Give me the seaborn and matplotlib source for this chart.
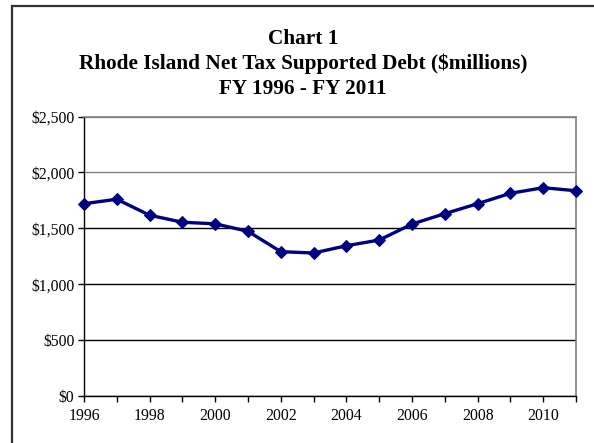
import matplotlib
matplotlib.use("Agg")
import matplotlib.pyplot as plt
import seaborn as sns
import pandas as pd
from matplotlib.patches import Rectangle
from matplotlib.ticker import FuncFormatter, MultipleLocator

years = [1996, 1997, 1998, 1999, 2000, 2001, 2002, 2003, 2004, 2005,
         2006, 2007, 2008, 2009, 2010, 2011]
debt = [1720, 1760, 1617, 1554, 1540, 1473, 1291, 1279, 1344, 1395,
        1538, 1631, 1720, 1813, 1863, 1836]
title_lines = ["Chart 1", "Rhode Island Net Tax Supported Debt ($millions)",
               "FY 1996 - FY 2011"]

df = pd.DataFrame({"Year": years, "Debt": debt})

sns.set_theme(style="white")
plt.rcParams["font.family"] = ["Liberation Serif", "DejaVu Serif"]
plt.rcParams["text.color"] = "black"

fig = plt.figure(figsize=(5.94, 4.43), dpi=100)
ax = fig.add_axes([84 / 594, 47 / 443, 492 / 594, 279.5 / 443])

sns.lineplot(data=df, x="Year", y="Debt", ax=ax, color="#000080",
             linewidth=2.4, marker="D", markersize=6.5,
             markeredgecolor="#000080", markerfacecolor="#000080")
for ln in ax.lines:
    ln.set_clip_on(False)
    ln.set_zorder(5)

ax.set_xlim(1996, 2011)
ax.set_ylim(0, 2500)
ax.xaxis.set_major_locator(MultipleLocator(1))
ax.xaxis.set_major_formatter(FuncFormatter(lambda v, p: f"{int(round(v))}" if int(round(v)) % 2 == 0 else ""))
ax.yaxis.set_major_locator(MultipleLocator(500))
ax.yaxis.set_major_formatter(FuncFormatter(lambda v, p: f"${int(v):,}"))
ax.set_xlabel("")
ax.set_ylabel("")

ax.tick_params(axis="both", which="major", direction="out", length=4, width=1,
               color="black", labelsize=11.3, labelcolor="black", pad=3,
               bottom=True, left=True)
ax.tick_params(axis="x", pad=5)
ax.yaxis.grid(True, linewidth=1, color="black")
for gl, v in zip(ax.yaxis.get_gridlines(), ax.get_yticks()):
    if v >= 2000:
        gl.set_color("#808080")
ax.set_axisbelow(True)

for s in ["left", "bottom"]:
    ax.spines[s].set_color("black")
    ax.spines[s].set_linewidth(1)
for s in ["top", "right"]:
    ax.spines[s].set_color("#808080")
    ax.spines[s].set_linewidth(1.2)

cx = 303 / 594
fig.text(cx, 1 - 39 / 443, title_lines[0], ha="center", va="center",
         fontsize=15.3, fontweight="bold", color="black")
fig.text(cx, 1 - 64 / 443, title_lines[1], ha="center", va="center",
         fontsize=15.3, fontweight="bold", color="black")
fig.text(cx, 1 - 89 / 443, title_lines[2], ha="center", va="center",
         fontsize=15.3, fontweight="bold", color="black")

fig.patches.append(Rectangle((12 / 594, -0.05), 1.0, 1 - 6 / 443 + 0.05,
                             transform=fig.transFigure, fill=False,
                             edgecolor="#333333", linewidth=1.6))

fig.savefig("out.png", dpi=100)
